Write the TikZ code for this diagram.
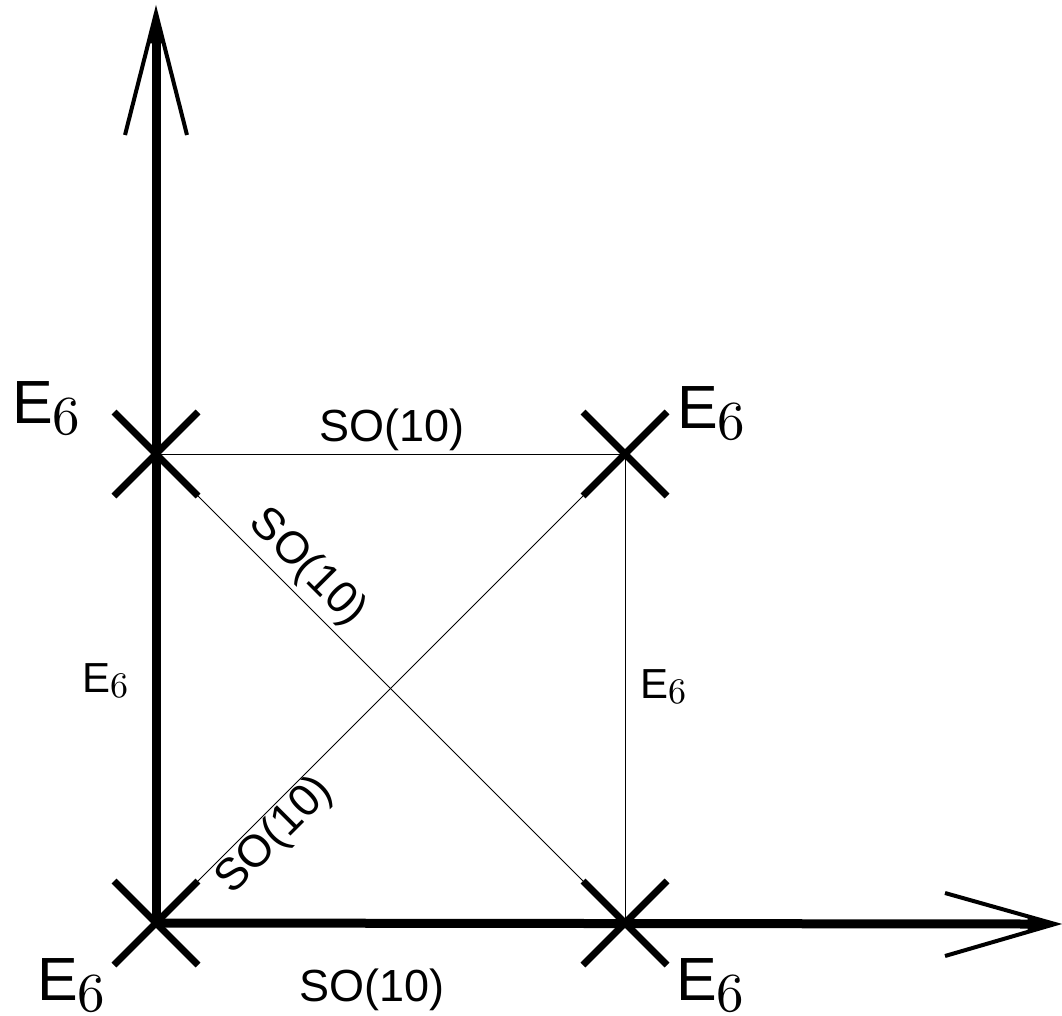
\documentclass[tikz,border=0pt]{standalone}
\usepackage{fontspec}
\newfontfamily\hv{Liberation Sans}
\newfontfamily\cmsix{lmroman10-regular.otf}
\usetikzlibrary{shapes.misc,calc}
\newcommand\EsixBig{{\hv\fontsize{61}{61}\selectfont E}{\cmsix\fontsize{55}{55}\selectfont\raisebox{-11pt}{6}}}
\newcommand\EsixSmall{{\hv\fontsize{42}{42}\selectfont E}{\cmsix\fontsize{36}{36}\selectfont\raisebox{-5pt}{6}}}
\tikzset{
  axis/.style={line width=9pt},
  tipline/.style={line width=4pt, line join=miter, miter limit=20},
  thinline/.style={line width=1pt},
  crossmark/.style={cross out, draw, line width=7pt, minimum size=84pt, inner sep=0pt, outer sep=0pt},
  biglabel/.style={anchor=base west, inner sep=0pt},
  solabel/.style={font=\hv\fontsize{45}{45}\selectfont, inner sep=0pt}
}
\begin{document}
\begin{tikzpicture}[x=1pt,y=-1pt]
\useasboundingbox (0,0) rectangle (1062,1016);
% positions
\coordinate (O) at (156,923);
\coordinate (A) at (156,454);
\coordinate (B) at (625,454);
\coordinate (C) at (625,923);
\coordinate (yend) at (156,42);
\coordinate (ytip) at (156,13);
\coordinate (ya1) at (125,135);
\coordinate (ya2) at (187,135);
\coordinate (xend) at (1029,924);
\coordinate (xtip) at (1055,924);
\coordinate (xa1) at (945,893);
\coordinate (xa2) at (945,956);
% thin connectors
\draw[thinline] (A) -- (B) -- (C);
\draw[thinline] (A) -- (C) node[pos=0.283, sloped, above, solabel, inner sep=5pt] (l1) {SO(10)};
\draw[thinline] (O) -- (B) node[pos=0.22, sloped, below, solabel, inner sep=1pt] (l2) {SO(10)};
% axes
\draw[axis] (O) -- (yend);
\draw[axis] (O) -- (xend);
\fill ($(ytip)!0.25!(ya1)$) -- (ytip) -- ($(ytip)!0.25!(ya2)$) -- cycle;
\fill ($(xtip)!0.25!(xa1)$) -- (xtip) -- ($(xtip)!0.25!(xa2)$) -- cycle;
\draw[tipline] (ya1) -- (ytip) -- (ya2);
\draw[tipline] (xa1) -- (xtip) -- (xa2);
% crosses
\node[crossmark] (xA) at (A) {};
\node[crossmark] (xB) at (B) {};
\node[crossmark] (xO) at (O) {};
\node[crossmark] (xC) at (C) {};
% labels
\node[biglabel] (eA) at (12,423) {\EsixBig};
\node[biglabel] (eB) at (677,428) {\EsixBig};
\node[biglabel] (eO) at (37,1000) {\EsixBig};
\node[biglabel] (eC) at (676,1000) {\EsixBig};
\node[biglabel] (eL) at (82,692) {\EsixSmall};
\node[biglabel] (eR) at (640,698) {\EsixSmall};
\node[solabel] (sTop) at (392,430) {SO(10)};
\node[solabel] (sBot) at (372,990) {SO(10)};
\end{tikzpicture}
\end{document}
